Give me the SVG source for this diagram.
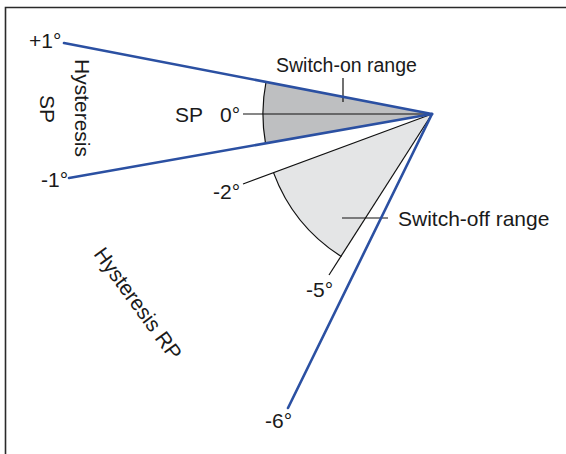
<svg xmlns="http://www.w3.org/2000/svg" width="566" height="454" viewBox="0 0 566 454">
<style>
text{font-family:"Liberation Sans",Arial,sans-serif;font-size:21px;fill:#1a1a1a}
.blue{stroke:#2b50a2;stroke-width:2.6;fill:none;stroke-linecap:round}
.thin{stroke:#111;stroke-width:1.2;fill:none}
.frame{stroke:#2a2a2a;stroke-width:1.6;fill:none}
</style>
<rect width="566" height="454" fill="#fff"/>
<path class="frame" d="M5.5,454 V7.5 H566"/>
<g id="switch-on-sector">
<path d="M432,114 L266,82 A169,169 0 0 0 265.5,143.3 Z" fill="#bebfc1"/>
<path class="thin" d="M266,82 A169,169 0 0 0 265.5,143.3"/>
</g>
<g id="switch-off-sector">
<path d="M432,114 L273.5,172.6 A169,169 0 0 0 341.4,256.6 Z" fill="#e4e5e6"/>
<path class="thin" d="M273.5,172.6 A169,169 0 0 0 341.4,256.6"/>
</g>
<g id="connectors">
<line class="thin" x1="243" y1="114" x2="432" y2="114"/>
<line class="thin" x1="243" y1="184" x2="432" y2="114"/>
<line class="thin" x1="329" y1="275" x2="432" y2="114"/>
<line class="thin" x1="343" y1="78" x2="343" y2="102"/>
<line class="thin" x1="342" y1="218" x2="388" y2="218"/>
<line class="blue" x1="64" y1="43" x2="432" y2="114"/>
<line class="blue" x1="69" y1="178" x2="432" y2="114"/>
<line class="blue" x1="288" y1="408" x2="432" y2="114"/>
</g>
<g id="label-plus1"><text x="29" y="48">+1°</text></g>
<g id="label-minus1"><text x="41" y="187">-1°</text></g>
<g id="label-hysteresis-sp">
<text transform="translate(75,59) rotate(90)">Hysteresis</text>
<text transform="translate(40,95) rotate(90)">SP</text>
</g>
<g id="label-sp"><text x="175" y="122">SP</text></g>
<g id="label-zero"><text x="220" y="122">0°</text></g>
<g id="label-minus2"><text x="213" y="199">-2°</text></g>
<g id="label-minus5"><text x="306" y="297">-5°</text></g>
<g id="label-minus6"><text x="265" y="428">-6°</text></g>
<g id="label-switch-on"><text x="276" y="72" style="font-size:19.5px">Switch-on range</text></g>
<g id="label-switch-off"><text x="398" y="226">Switch-off range</text></g>
<g id="label-hysteresis-rp"><text transform="translate(93,254) rotate(54)">Hysteresis RP</text></g>
</svg>
